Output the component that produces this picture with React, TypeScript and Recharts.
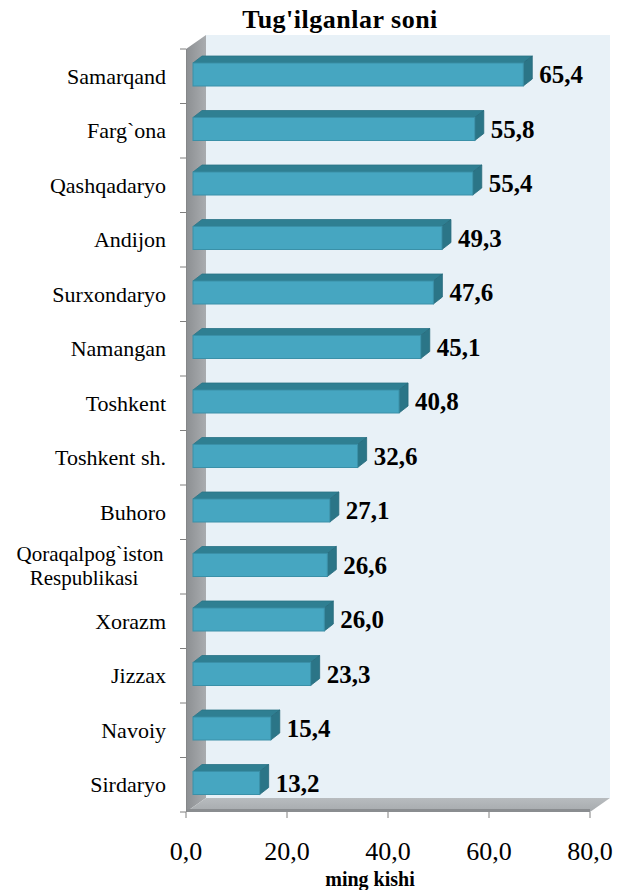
import { Bar, BarChart, LabelList, ReferenceArea, XAxis, YAxis } from "recharts";

const regions = [
  "Samarqand",
  "Farg`ona",
  "Qashqadaryo",
  "Andijon",
  "Surxondaryo",
  "Namangan",
  "Toshkent",
  "Toshkent sh.",
  "Buhoro",
  "Qoraqalpog`iston\nRespublikasi",
  "Xorazm",
  "Jizzax",
  "Navoiy",
  "Sirdaryo",
];
const births = [65.4, 55.8, 55.4, 49.3, 47.6, 45.1, 40.8, 32.6, 27.1, 26.6, 26.0, 23.3, 15.4, 13.2];
const xTicks = [0, 20, 40, 60, 80];

const data = regions.map((name, i) => ({ name, value: births[i] }));

const SERIF = "'Liberation Serif', 'Times New Roman', serif";
// depth of the 3D box (back wall offset) and of each bar
const DEPTH = { dx: 20, dy: -14 };
const BAR_SHIFT = 7;
const BAR_DEPTH = { dx: 9, dy: -7 };

const fmt = (v: number) => v.toFixed(1).replace(".", ",");

function Backdrop({ x, y, width, height }: any) {
  const { dx, dy } = DEPTH;
  const left = x;
  const right = x + width;
  const top = y;
  const bottom = y + height;
  const step = height / regions.length;
  return (
    <g>
      <defs>
        <linearGradient id="wallFill" x1="0" y1="0" x2="1" y2="0">
          <stop offset="0%" stopColor="#8c8f92" />
          <stop offset="100%" stopColor="#a9acaf" />
        </linearGradient>
        <linearGradient id="floorFill" x1="0" y1="0" x2="0" y2="1">
          <stop offset="0%" stopColor="#b8bcbf" />
          <stop offset="100%" stopColor="#a6aaad" />
        </linearGradient>
      </defs>
      {/* back panel */}
      <rect x={left + dx} y={top + dy} width={width} height={height} fill="#e8f1f7" />
      {/* side wall */}
      <polygon
        points={`${left},${top} ${left + dx},${top + dy} ${left + dx},${bottom + dy} ${left},${bottom}`}
        fill="url(#wallFill)"
      />
      {/* floor */}
      <polygon
        points={`${left},${bottom} ${left + dx},${bottom + dy} ${right + dx},${bottom + dy} ${right},${bottom}`}
        fill="url(#floorFill)"
      />
      <line x1={left} y1={bottom - 1.5} x2={right} y2={bottom - 1.5} stroke="#8a8d90" strokeWidth={3} />
      <line x1={left + 0.5} y1={top} x2={left + 0.5} y2={bottom} stroke="#858789" strokeWidth={1} />
      {/* category boundary ticks */}
      {Array.from({ length: regions.length + 1 }, (_, i) => (
        <line
          key={i}
          x1={left - 6}
          x2={left}
          y1={top + i * step}
          y2={top + i * step}
          stroke="#7f7f7f"
          strokeWidth={1}
        />
      ))}
    </g>
  );
}

function Bar3D({ x, y, width, height }: any) {
  if (width == null || width <= 0) return null;
  const fx = x + BAR_SHIFT;
  const fy = y - 2;
  const w = width;
  const h = height;
  const { dx, dy } = BAR_DEPTH;
  return (
    <g>
      <polygon
        points={`${fx},${fy} ${fx + dx},${fy + dy} ${fx + w + dx},${fy + dy} ${fx + w},${fy}`}
        fill="#2f7f92"
        stroke="#2a7386"
        strokeWidth={0.8}
      />
      <polygon
        points={`${fx + w},${fy} ${fx + w + dx},${fy + dy} ${fx + w + dx},${fy + h + dy} ${fx + w},${fy + h}`}
        fill="#2b7587"
        stroke="#266a7b"
        strokeWidth={0.8}
      />
      <rect x={fx} y={fy} width={w} height={h} fill="#46a6c1" stroke="#3a90a8" strokeWidth={1} />
    </g>
  );
}

function CategoryTick({ x, y, payload }: any) {
  const lines: string[] = String(payload.value).split("\n");
  if (lines.length === 1) {
    return (
      <text x={x} y={y} dy="0.35em" textAnchor="end" fontFamily={SERIF} fontSize={22} fill="#000">
        {lines[0]}
      </text>
    );
  }
  return (
    <text x={x - 78} y={y - 6} textAnchor="middle" fontFamily={SERIF} fontSize={21} fill="#000">
      {lines.map((ln, i) => (
        <tspan key={i} x={x - 76 - i * 6} dy={i === 0 ? 0 : 24}>
          {ln}
        </tspan>
      ))}
    </text>
  );
}

function ValueLabel({ x, y, width, height, value }: any) {
  return (
    <text
      x={x + width + BAR_SHIFT + 16}
      y={y - 2 + height / 2}
      dy="0.35em"
      fontFamily={SERIF}
      fontWeight="bold"
      fontSize={25}
      fill="#000"
    >
      {fmt(value)}
    </text>
  );
}

export default function App() {
  return (
    <div style={{ position: "absolute", left: 0, top: 0, width: 617, height: 890, background: "#fff" }}>
      <BarChart
        width={617}
        height={890}
        data={data}
        layout="vertical"
        margin={{ top: 49, right: 27, bottom: 18, left: 0 }}
        barCategoryGap={0}
      >
        <ReferenceArea x1={0} x2={80} ifOverflow="visible" zIndex={-1000} shape={<Backdrop />} />
        <XAxis
          type="number"
          domain={[0, 80]}
          ticks={xTicks}
          interval={0}
          tickFormatter={fmt}
          height={60}
          axisLine={false}
          tickLine={{ stroke: "#808080" }}
          tickSize={6}
          tickMargin={24}
          tick={{ fontFamily: SERIF, fontSize: 26, fill: "#000" }}
        />
        <YAxis
          type="category"
          dataKey="name"
          width={186}
          interval={0}
          axisLine={false}
          tickLine={false}
          tickSize={6}
          tickMargin={14}
          tick={<CategoryTick />}
        />
        <Bar dataKey="value" barSize={23} isAnimationActive={false} shape={<Bar3D />}>
          <LabelList dataKey="value" content={<ValueLabel />} />
        </Bar>
      </BarChart>
      <svg
        width={617}
        height={890}
        style={{ position: "absolute", left: 0, top: 0, pointerEvents: "none" }}
      >
        <text x={340} y={28} textAnchor="middle" fontFamily={SERIF} fontWeight="bold" fontSize={26} letterSpacing={0.5}>
          Tug'ilganlar soni
        </text>
        <text x={370} y={886} textAnchor="middle" fontFamily={SERIF} fontWeight="bold" fontSize={20}>
          ming kishi
        </text>
      </svg>
    </div>
  );
}
